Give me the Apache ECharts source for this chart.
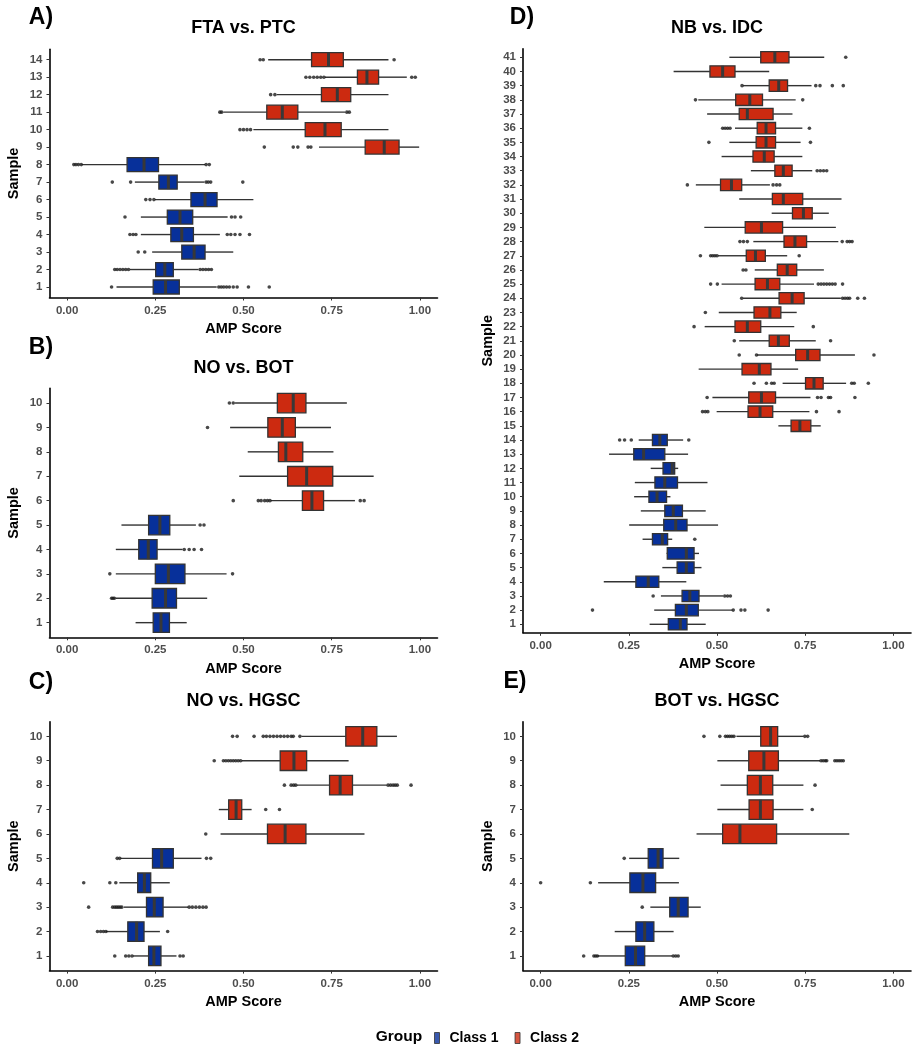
<!DOCTYPE html>
<html>
<head>
<meta charset="utf-8">
<script src="https://cdn.jsdelivr.net/npm/echarts@6/dist/echarts.min.js"></script>
<style>html,body{margin:0;padding:0;background:#fff}#c{width:920px;height:1050px}</style>
</head>
<body>
<div id="c"></div>
<script>
// ---- Data: per sample [whisker min, Q1, median, Q3, whisker max] ----
const xTicks = [0, 0.25, 0.5, 0.75, 1];
const groupNames = ['Class 1', 'Class 2'];

const A_title = 'FTA vs. PTC';
const A_stats = [
  [0.140,0.244,0.279,0.318,0.424],[0.178,0.251,0.277,0.301,0.372],[0.241,0.325,0.360,0.391,0.471],
  [0.209,0.294,0.325,0.358,0.433],[0.209,0.284,0.320,0.356,0.455],[0.249,0.351,0.391,0.425,0.528],
  [0.192,0.260,0.287,0.312,0.389],[0.041,0.170,0.218,0.259,0.391],[0.714,0.845,0.899,0.941,0.998],
  [0.528,0.675,0.731,0.777,0.911],[0.443,0.566,0.610,0.654,0.788],[0.594,0.721,0.766,0.804,0.911],
  [0.731,0.823,0.850,0.883,0.963],[0.570,0.693,0.741,0.783,0.911]
];
const A_group = [1,1,1,1,1,1,1,1,2,2,2,2,2,2];
const A_out = [
  [0.126,0.430,0.437,0.444,0.452,0.460,0.471,0.482,0.514,0.573],
  [0.135,0.142,0.150,0.158,0.166,0.174,0.377,0.385,0.393,0.401,0.409],
  [0.2015,0.220],
  [0.178,0.187,0.195,0.454,0.464,0.476,0.490,0.517],
  [0.164,0.466,0.476,0.492],
  [0.223,0.235,0.246],
  [0.128,0.180,0.394,0.400,0.407,0.498],
  [0.019,0.025,0.032,0.040,0.394,0.403],
  [0.559,0.641,0.654,0.683,0.691],
  [0.490,0.500,0.510,0.520],
  [0.433,0.438,0.793,0.800],
  [0.577,0.589],
  [0.677,0.688,0.699,0.709,0.719,0.728,0.977,0.987],
  [0.547,0.556,0.927]
];

const B_title = 'NO vs. BOT';
const B_stats = [
  [0.194,0.244,0.266,0.290,0.339],[0.138,0.241,0.279,0.310,0.397],[0.138,0.250,0.287,0.334,0.452],
  [0.138,0.203,0.230,0.255,0.327],[0.154,0.231,0.263,0.291,0.365],[0.577,0.667,0.694,0.727,0.816],
  [0.488,0.625,0.679,0.753,0.869],[0.512,0.599,0.620,0.668,0.755],[0.462,0.569,0.610,0.647,0.748],
  [0.476,0.596,0.641,0.677,0.793]
];
const B_group = [1,1,1,1,1,2,2,2,2,2];
const B_out = [
  [],[0.126,0.130,0.134],[0.121,0.469],[0.332,0.346,0.360,0.381],[0.377,0.388],
  [0.471,0.542,0.550,0.560,0.568,0.575,0.831,0.842],[],[],[0.398],[0.460,0.471]
];

const C_title = 'NO vs. HGSC';
const C_stats = [
  [0.187,0.231,0.246,0.266,0.310],[0.110,0.172,0.197,0.218,0.263],[0.161,0.225,0.247,0.272,0.343],
  [0.148,0.200,0.219,0.237,0.291],[0.151,0.242,0.268,0.301,0.381],[0.435,0.568,0.618,0.677,0.843],
  [0.430,0.458,0.479,0.495,0.523],[0.651,0.744,0.774,0.809,0.906],[0.495,0.604,0.643,0.679,0.798],
  [0.665,0.790,0.838,0.878,0.935]
];
const C_group = [1,1,1,1,1,2,2,2,2,2];
const C_out = [
  [0.135,0.166,0.175,0.184,0.320,0.329],
  [0.086,0.095,0.103,0.110,0.285],
  [0.061,0.129,0.135,0.140,0.145,0.150,0.155,0.346,0.355,0.365,0.375,0.385,0.394],
  [0.047,0.121,0.138],
  [0.142,0.149,0.395,0.407],
  [0.393],
  [0.563,0.602],
  [0.616,0.635,0.642,0.648,0.910,0.917,0.924,0.930,0.936,0.975],
  [0.417,0.443,0.450,0.457,0.464,0.471,0.478,0.485,0.492],
  [0.469,0.482,0.530,0.556,0.565,0.575,0.585,0.595,0.605,0.615,0.625,0.635,0.641,0.660]
];

const D_title = 'NB vs. IDC';
const D_stats = [
  [0.309,0.362,0.396,0.415,0.468],[0.322,0.382,0.413,0.447,0.544],[0.341,0.401,0.423,0.449,0.517],
  [0.179,0.270,0.305,0.335,0.413],[0.345,0.387,0.413,0.435,0.456],[0.357,0.359,0.413,0.435,0.449],
  [0.289,0.317,0.345,0.360,0.373],[0.251,0.349,0.383,0.415,0.503],[0.284,0.352,0.376,0.402,0.468],
  [0.265,0.307,0.330,0.357,0.368],[0.267,0.324,0.352,0.388,0.473],[0.312,0.347,0.373,0.380,0.390],
  [0.194,0.264,0.292,0.352,0.418],[0.278,0.317,0.338,0.359,0.404],[0.674,0.710,0.735,0.766,0.794],
  [0.499,0.588,0.622,0.658,0.762],[0.487,0.590,0.626,0.666,0.765],[0.686,0.751,0.775,0.801,0.866],
  [0.448,0.571,0.620,0.653,0.730],[0.614,0.723,0.757,0.792,0.891],[0.563,0.648,0.674,0.705,0.780],
  [0.465,0.551,0.586,0.624,0.719],[0.505,0.605,0.650,0.681,0.726],[0.574,0.676,0.713,0.747,0.851],
  [0.513,0.608,0.643,0.678,0.775],[0.607,0.671,0.699,0.726,0.803],[0.503,0.583,0.609,0.637,0.699],
  [0.603,0.690,0.721,0.754,0.844],[0.464,0.580,0.626,0.686,0.837],[0.655,0.714,0.745,0.770,0.817],
  [0.563,0.657,0.688,0.743,0.853],[0.440,0.510,0.541,0.570,0.650],[0.596,0.664,0.688,0.713,0.770],
  [0.513,0.602,0.634,0.662,0.742],[0.535,0.611,0.639,0.666,0.737],[0.551,0.614,0.639,0.666,0.742],
  [0.472,0.563,0.586,0.659,0.714],[0.447,0.553,0.593,0.629,0.723],[0.574,0.648,0.675,0.700,0.768],
  [0.377,0.480,0.516,0.551,0.648],[0.535,0.624,0.664,0.704,0.804]
];
const D_group = [1,1,1,1,1,1,1,1,1,1,1,1,1,1,2,2,2,2,2,2,2,2,2,2,2,2,2,2,2,2,2,2,2,2,2,2,2,2,2,2,2];
const D_out = [
  [],[0.147,0.546,0.568,0.579,0.645],[0.319,0.522,0.530,0.538],[],[],[],[0.437],[],[],[],[],[],[],
  [0.224,0.238,0.257,0.420],
  [],
  [0.459,0.467,0.474,0.782,0.846],
  [0.472,0.785,0.795,0.816,0.822,0.891],
  [0.605,0.640,0.655,0.662,0.882,0.889,0.929],
  [],
  [0.563,0.612,0.945],
  [0.549,0.822],
  [0.435,0.773],
  [0.467],
  [0.570,0.856,0.863,0.870,0.876,0.899,0.918],
  [0.482,0.501,0.787,0.795,0.803,0.811,0.819,0.827,0.835,0.856],
  [0.574,0.582],
  [0.453,0.482,0.488,0.494,0.500,0.733],
  [0.565,0.575,0.586,0.855,0.869,0.876,0.883],
  [],[],[],
  [0.416,0.659,0.669,0.678],
  [0.784,0.793,0.802,0.811],
  [],
  [0.477,0.765],
  [0.516,0.523,0.530,0.537,0.762],
  [],
  [0.439,0.743],
  [0.571,0.780,0.792,0.827,0.858],
  [],
  [0.865]
];

const E_title = 'BOT vs. HGSC';
const E_stats = [
  [0.161,0.240,0.269,0.295,0.373],[0.210,0.270,0.295,0.321,0.377],[0.311,0.366,0.390,0.418,0.454],
  [0.163,0.253,0.290,0.326,0.392],[0.251,0.305,0.333,0.347,0.393],[0.442,0.516,0.565,0.669,0.875],
  [0.501,0.591,0.623,0.659,0.745],[0.510,0.586,0.623,0.658,0.745],[0.501,0.590,0.633,0.674,0.792],
  [0.555,0.624,0.652,0.672,0.745]
];
const E_group = [1,1,1,1,1,2,2,2,2,2];
const E_out = [
  [0.122,0.151,0.156,0.161,0.376,0.383,0.390],[],[0.288],[0.000,0.141],[0.237],[],
  [0.770],[0.778],[0.795,0.801,0.807,0.811,0.834,0.840,0.846,0.852,0.858],
  [0.463,0.508,0.524,0.530,0.536,0.542,0.548,0.749,0.757]
];

// ---- Styling / layout ----
const COLORS = {1: '#07309A', 2: '#CC2A10'};
const EDGE = '#333333';
const FONT = '"Liberation Sans", Arial, sans-serif';

const panels = [
  {letter:'A)', title:A_title, stats:A_stats, group:A_group, out:A_out, grid:{left:49.5, top:49.2, width:388, height:248.3}, letterPos:[41,18], titleY:28},
  {letter:'B)', title:B_title, stats:B_stats, group:B_group, out:B_out, grid:{left:49.5, top:388.4, width:388, height:248.9}, letterPos:[41,348], titleY:368},
  {letter:'C)', title:C_title, stats:C_stats, group:C_group, out:C_out, grid:{left:49.5, top:721.7, width:388, height:248.9}, letterPos:[41,683], titleY:701.5},
  {letter:'D)', title:D_title, stats:D_stats, group:D_group, out:D_out, grid:{left:523, top:48.8, width:388, height:584}, letterPos:[522,18], titleY:28},
  {letter:'E)', title:E_title, stats:E_stats, group:E_group, out:E_out, grid:{left:523, top:721.7, width:388, height:248.9}, letterPos:[515,682], titleY:701.5}
];

function renderBox(params, api) {
  const y = api.value(0);
  const lo = api.coord([api.value(1), y]);
  const q1 = api.coord([api.value(2), y]);
  const md = api.coord([api.value(3), y]);
  const q3 = api.coord([api.value(4), y]);
  const hi = api.coord([api.value(5), y]);
  const fill = COLORS[api.value(6)];
  const h = api.size([0, 1])[1] * 0.8;
  return {
    type: 'group',
    children: [
      {type:'line', shape:{x1:lo[0], y1:lo[1], x2:q1[0], y2:q1[1]}, style:{stroke:EDGE, lineWidth:1.4}},
      {type:'line', shape:{x1:q3[0], y1:q3[1], x2:hi[0], y2:hi[1]}, style:{stroke:EDGE, lineWidth:1.4}},
      {type:'rect', shape:{x:q1[0], y:q1[1]-h/2, width:q3[0]-q1[0], height:h}, style:{fill:fill, stroke:EDGE, lineWidth:1.3}},
      {type:'line', shape:{x1:md[0], y1:md[1]-h/2, x2:md[0], y2:md[1]+h/2}, style:{stroke:'#383838', lineWidth:3}}
    ]
  };
}

const grid = [], xAxis = [], yAxis = [], series = [], graphic = [];
panels.forEach((p, i) => {
  const n = p.stats.length;
  const yTicks = p.stats.map((_, k) => k + 1);
  grid.push(Object.assign({containLabel:false}, p.grid));
  xAxis.push({
    gridIndex:i, type:'value', min:-0.05, max:1.05,
    name:'AMP Score', nameLocation:'middle', nameGap:24,
    nameTextStyle:{fontFamily:FONT, fontWeight:'bold', fontSize:14.5, color:'#000'},
    axisLine:{show:true, onZero:false, lineStyle:{color:'#000', width:1.6}},
    axisTick:{show:true, length:3, customValues:xTicks, lineStyle:{color:'#333', width:1}},
    axisLabel:{customValues:xTicks, formatter:v => v.toFixed(2), fontFamily:FONT, fontWeight:'bold', fontSize:11.5, color:'#4d4d4d', margin:7},
    splitLine:{show:false}
  });
  yAxis.push({
    gridIndex:i, type:'value', min:0.4, max:n + 0.6,
    name:'Sample', nameLocation:'middle', nameGap:28, nameRotate:90,
    nameTextStyle:{fontFamily:FONT, fontWeight:'bold', fontSize:14.5, color:'#000'},
    axisLine:{show:true, onZero:false, lineStyle:{color:'#000', width:1.6}},
    axisTick:{show:true, length:3, customValues:yTicks, lineStyle:{color:'#333', width:1}},
    axisLabel:{customValues:yTicks, formatter:v => String(v), fontFamily:FONT, fontWeight:'bold', fontSize:11.5, color:'#4d4d4d', margin:7},
    splitLine:{show:false}
  });
  const boxData = p.stats.map((s, k) => [k + 1, s[0], s[1], s[2], s[3], s[4], p.group[k]]);
  series.push({
    type:'custom', xAxisIndex:i, yAxisIndex:i, renderItem:renderBox,
    encode:{x:[1,2,3,4,5], y:0}, data:boxData, silent:true, z:2
  });
  const outData = [];
  p.out.forEach((vals, k) => vals.forEach(v => outData.push([v, k + 1])));
  series.push({
    type:'scatter', xAxisIndex:i, yAxisIndex:i, data:outData, symbol:'circle', symbolSize:3.6,
    itemStyle:{color:'#1a1a1a'}, silent:true, z:3
  });
  const cx = p.grid.left + p.grid.width / 2;
  graphic.push({type:'text', x:cx, y:p.titleY, style:{text:p.title, font:'bold 18px ' + FONT, fill:'#000', textAlign:'center', textVerticalAlign:'middle', align:'center', verticalAlign:'middle'}});
  graphic.push({type:'text', x:p.letterPos[0], y:p.letterPos[1], style:{text:p.letter, font:'bold 23px ' + FONT, fill:'#000', textAlign:'center', textVerticalAlign:'middle', align:'center', verticalAlign:'middle'}});
});

// legend-only series
groupNames.forEach((nm, g) => {
  series.push({type:'scatter', name:nm, xAxisIndex:0, yAxisIndex:0, data:[], itemStyle:{color:COLORS[g + 1], borderColor:EDGE, borderWidth:1}});
});
graphic.push({type:'text', x:399, y:1037, style:{text:'Group', font:'bold 15.5px ' + FONT, fill:'#000', textAlign:'center', textVerticalAlign:'middle', align:'center', verticalAlign:'middle'}});

const chart = echarts.init(document.getElementById('c'), null, {renderer:'canvas'});
chart.setOption({
  backgroundColor:'#fff',
  animation:false,
  grid, xAxis, yAxis, series, graphic,
  legend:{
    data:groupNames, left:429, top:1026, icon:'rect', itemWidth:5, itemHeight:11, itemGap:16,
    textStyle:{fontFamily:FONT, fontWeight:'bold', fontSize:14, color:'#000', padding:[0,0,0,5]},
    selectedMode:false,
    itemStyle:{borderColor:EDGE, borderWidth:1}
  }
});
</script>
</body>
</html>
